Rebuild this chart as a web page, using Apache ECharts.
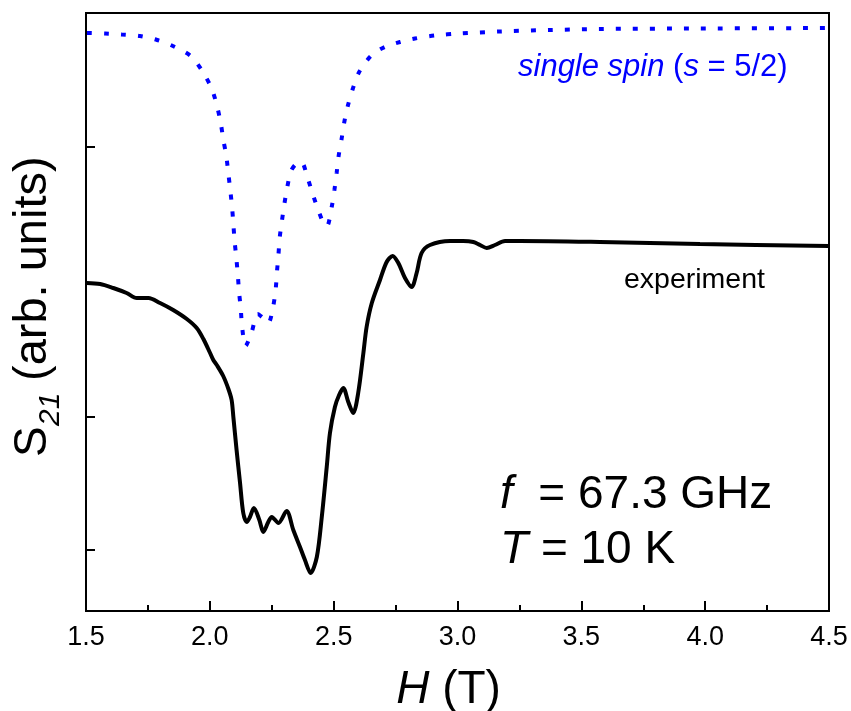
<!DOCTYPE html>
<html>
<head>
<meta charset="utf-8">
<script src="https://cdn.jsdelivr.net/npm/echarts@6/dist/echarts.min.js"></script>
<style>html,body{margin:0;padding:0;background:#fff;}#c{width:851px;height:711px;}</style>
</head>
<body>
<div id="c"></div>
<script>
// Field values (T) and S21 (arb. units) for the simulated single spin curve
const simH = [1.504,1.577,1.645,1.718,1.787,1.851,1.923,1.972,2.008,2.029,2.044,2.054,2.067,2.075,2.083,2.090,2.095,2.100,2.107,2.113,2.118,2.125,2.130,2.144,2.169,2.193,2.215,2.236,2.256,2.266,2.271,2.277,2.282,2.291,2.301,2.312,2.328,2.348,2.369,2.396,2.418,2.442,2.461,2.473,2.492,2.503,2.512,2.520,2.532,2.543,2.557,2.577,2.603,2.654,2.707,2.768,2.828,2.909,3.010,3.172,3.373,3.575,3.979,4.500];
const simS21 = [5.78,5.775,5.765,5.75,5.71,5.65,5.55,5.39,5.22,5.05,4.88,4.72,4.54,4.37,4.20,4.03,3.87,3.70,3.53,3.36,3.19,3.02,2.85,2.65,2.79,2.97,2.93,2.88,3.05,3.22,3.39,3.56,3.73,3.90,4.07,4.23,4.40,4.47,4.49,4.32,4.15,3.98,3.87,3.85,4.04,4.21,4.38,4.55,4.72,4.89,5.05,5.22,5.39,5.56,5.64,5.69,5.725,5.755,5.775,5.795,5.81,5.82,5.825,5.83];

// Experimental curve
const expH = [1.503,1.557,1.610,1.664,1.705,1.752,1.799,1.852,1.907,1.947,1.974,2.001,2.014,2.028,2.054,2.075,2.088,2.095,2.108,2.122,2.135,2.149,2.162,2.178,2.200,2.216,2.236,2.250,2.277,2.310,2.337,2.364,2.384,2.407,2.432,2.452,2.472,2.485,2.505,2.522,2.539,2.559,2.579,2.599,2.620,2.633,2.654,2.687,2.714,2.738,2.761,2.788,2.815,2.835,2.855,2.889,2.970,3.023,3.064,3.091,3.118,3.151,3.192,3.252,3.575,3.979,4.500];
const expS21 = [3.28,3.27,3.23,3.18,3.13,3.13,3.08,3.01,2.92,2.83,2.72,2.58,2.51,2.46,2.35,2.22,2.11,1.94,1.61,1.28,0.98,0.89,0.94,1.03,0.91,0.79,0.89,0.94,0.88,1.00,0.81,0.64,0.51,0.38,0.54,0.94,1.44,1.78,2.04,2.16,2.23,2.09,1.98,2.18,2.58,2.84,3.08,3.31,3.49,3.55,3.48,3.33,3.24,3.38,3.58,3.66,3.70,3.70,3.69,3.66,3.63,3.66,3.70,3.70,3.69,3.67,3.65];

const yTicks = [4.64, 1.94, 0.61];
const xMin = 1.5, xMax = 4.5, xStep = 0.5;
const yMin = 0, yMax = 5.98;

const FONT = '"Liberation Sans", Arial, sans-serif';

const chart = echarts.init(document.getElementById('c'), null, {renderer: 'canvas'});

const simData = simH.map((h, i) => [h, simS21[i]]);
const expData = expH.map((h, i) => [h, expS21[i]]);

chart.setOption({
  backgroundColor: '#fff',
  animation: false,
  grid: {left: 86, right: 22, top: 13, bottom: 100, outerBoundsMode: 'none', containLabel: false,
    show: true, borderColor: '#000', borderWidth: 2, backgroundColor: 'transparent'},
  xAxis: {
    type: 'value', min: xMin, max: xMax, interval: xStep,
    name: '{i|H} (T)', nameLocation: 'middle', nameGap: 56,
    nameTextStyle: {fontFamily: FONT, fontSize: 46, color: '#000', padding: [0, 18, 0, 0],
      rich: {i: {fontFamily: FONT, fontSize: 46, fontStyle: 'italic', color: '#000'}}},
    axisLine: {show: true, lineStyle: {color: '#000', width: 2}},
    axisTick: {show: true, inside: true, length: 10, lineStyle: {color: '#000', width: 2}},
    minorTick: {show: true, splitNumber: 2, length: 6, lineStyle: {color: '#000', width: 2}},
    axisLabel: {fontFamily: FONT, fontSize: 27, color: '#000', margin: 13,
      formatter: v => v.toFixed(1)},
    splitLine: {show: false}
  },
  yAxis: {
    type: 'value', min: yMin, max: yMax,
    axisLine: {show: true, lineStyle: {color: '#000', width: 2}},
    axisTick: {show: true, inside: true, length: 9, customValues: yTicks, lineStyle: {color: '#000', width: 2}},
    axisLabel: {show: false},
    splitLine: {show: false}
  },
  series: [
    {
      type: 'line', data: simData, showSymbol: false, smooth: 0.3,
      lineStyle: {color: '#0000ff', width: 4, type: [5, 12], cap: 'butt'}
    },
    {
      type: 'line', data: expData, showSymbol: false, smooth: 0.3,
      lineStyle: {color: '#000', width: 4}
    }
  ],
  graphic: [
    {
      type: 'group', x: 0, y: 457, rotation: Math.PI / 2,
      children: [
        {type: 'text', x: 0, y: 33, style: {text: 'S', font: '46px ' + FONT, fill: '#000', textAlign: 'left', textVerticalAlign: 'middle'}},
        {type: 'text', x: 31, y: 51, style: {text: '21', font: 'italic 30px ' + FONT, fill: '#000', textAlign: 'left', textVerticalAlign: 'middle'}},
        {type: 'text', x: 76, y: 33, style: {text: '(arb. units)', font: '47px ' + FONT, fill: '#000', textAlign: 'left', textVerticalAlign: 'middle'}}
      ]
    },
    {
      type: 'text', left: 518, top: 52,
      style: {
        text: '{i|single spin} ({i|s} = 5/2)',
        font: '31px ' + FONT, fill: '#0000ff',
        rich: {i: {fontFamily: FONT, fontSize: 31, fontStyle: 'italic', fill: '#0000ff', color: '#0000ff'}}
      }
    },
    {
      type: 'text', left: 624, top: 266,
      style: {text: 'experiment', font: '28.5px ' + FONT, fill: '#000'}
    },
    {
      type: 'text', left: 500, top: 472,
      style: {
        text: '{i|f}  = 67.3 GHz',
        font: '46px ' + FONT, fill: '#000',
        rich: {i: {fontFamily: FONT, fontSize: 46, fontStyle: 'italic', fill: '#000', color: '#000'}}
      }
    },
    {
      type: 'text', left: 500, top: 527,
      style: {
        text: '{i|T} = 10 K',
        font: '46px ' + FONT, fill: '#000',
        rich: {i: {fontFamily: FONT, fontSize: 46, fontStyle: 'italic', fill: '#000', color: '#000'}}
      }
    }
  ]
});
</script>
</body>
</html>
